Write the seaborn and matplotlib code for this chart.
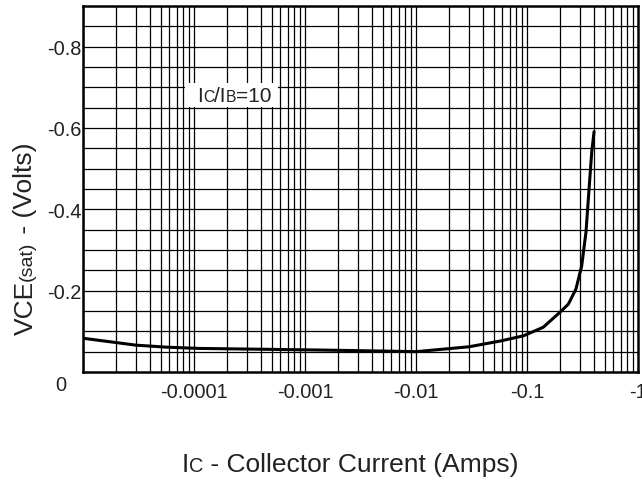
import numpy as np
import matplotlib
matplotlib.use("Agg")
import matplotlib.pyplot as plt
import seaborn as sns
from matplotlib.patches import Rectangle

# collector current magnitude (A) and VCE(sat) (V)
ic = [1e-5, 3.0e-5, 5.7e-5, 1.1e-4, 1.4e-3, 3.9e-3, 1.0e-2, 3.0e-2, 5.7e-2,
      9.3e-2, 0.14, 0.20, 0.236, 0.276, 0.311, 0.34, 0.364, 0.383, 0.402]
vce = [-0.083, -0.066, -0.061, -0.058, -0.054, -0.052, -0.050, -0.062, -0.076,
       -0.089, -0.110, -0.148, -0.167, -0.204, -0.261, -0.344, -0.458, -0.541, -0.591]

x_ticks = [1e-4, 1e-3, 1e-2, 1e-1, 1]
x_labels = ['-0.0001', '-0.001', '-0.01', '-0.1', '-1']
y_ticks = [-0.2, -0.4, -0.6, -0.8]
y_labels = ['-0.2', '-0.4', '-0.6', '-0.8']

sns.set_style("white")
plt.rcParams['font.family'] = ['Liberation Sans', 'DejaVu Sans']
TXT = '#222222'

fig = plt.figure(figsize=(6.42, 4.81), dpi=100)
ax = fig.add_axes([83/642, 1 - 373/481, 555/642, 366/481])

sns.lineplot(x=ic, y=vce, color='black', linewidth=2.2, estimator=None, ax=ax, zorder=4)

ax.set_xscale('log')
ax.set_xlim(1e-5, 1)
ax.set_ylim(0, -0.9)

# grid: every 1..9 in each decade, every 0.05 V
for d in range(-5, 0):
    for m in range(1, 10):
        ax.axvline(m * 10.0**d, color='black', lw=0.9, zorder=1)
for v in np.arange(0.05, 0.9, 0.05):
    ax.axhline(-v, color='black', lw=0.9, zorder=1)

for s in ax.spines.values():
    s.set_visible(True)
    s.set_color('black')
    s.set_linewidth(1.8)

ax.set_xticks(x_ticks)
ax.set_xticklabels(x_labels)
ax.set_xticks([], minor=True)
ax.set_yticks(y_ticks)
ax.set_yticklabels(y_labels)
ax.tick_params(axis='both', length=0, labelsize=14.4, colors=TXT)
ax.tick_params(axis='x', pad=7)
ax.tick_params(axis='y', pad=1)
ax.text(-0.04, -0.035, '0', transform=ax.transAxes, ha='center', va='center',
        fontsize=14.4, color=TXT)


def write_parts(x, y, parts, transform):
    # horizontal text made of pieces of different size on one baseline
    t = ax.text(x, y, parts[0][0], fontsize=parts[0][1], transform=transform,
                va='baseline', ha='left', color=TXT, zorder=5, clip_on=False)
    prev = parts[0][1]
    for s, fs in parts[1:]:
        t = ax.annotate(s, xy=(1, 0), xycoords=t, xytext=(0, 0.21 * (prev - fs)),
                        textcoords='offset points', va='bottom', ha='left',
                        fontsize=fs, color=TXT, zorder=5, annotation_clip=False)
        prev = fs
    return t


def write_parts_up(x, y, parts, transform):
    # same, rotated 90 degrees, reading bottom to top
    t = ax.text(x, y, parts[0][0], fontsize=parts[0][1], transform=transform,
                rotation=90, va='bottom', ha='right', color=TXT, clip_on=False)
    prev = parts[0][1]
    for s, fs in parts[1:]:
        t = ax.annotate(s, xy=(1, 1), xycoords=t, xytext=(-0.21 * (prev - fs), 0),
                        textcoords='offset points', va='bottom', ha='right', rotation=90,
                        fontsize=fs, color=TXT, annotation_clip=False)
        prev = fs
    return t


# annotation with white background
ax.add_patch(Rectangle(((185-83)/555, (373-108)/366), 93/555, 24/366,
                       transform=ax.transAxes, facecolor='white', edgecolor='none', zorder=2))
write_parts((197-83)/555, (373-102)/366,
            [('I', 15), ('C', 11.3), ('/I', 15), ('B', 11.3), ('=10', 15)],
            ax.transAxes)

write_parts(182/642, 1 - 472/481,
            [('I', 19), ('C', 14.3), (' - Collector Current (Amps)', 19)],
            fig.transFigure)

write_parts_up(37.5/642, 1 - 335/481,
               [('VCE', 19), ('(sat)', 14), (' - (Volts)', 19)],
               fig.transFigure)

fig.savefig('out.png', dpi=100)
